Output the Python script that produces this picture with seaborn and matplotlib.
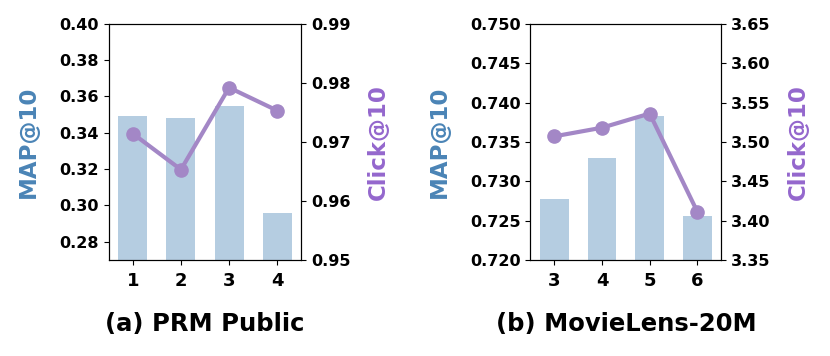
import matplotlib
matplotlib.use("Agg")
import matplotlib.pyplot as plt
import seaborn as sns
import pandas as pd

# (a) PRM Public
prm_x = ["1", "2", "3", "4"]
prm_map = [0.349, 0.348, 0.355, 0.296]
prm_click = [0.9714, 0.9653, 0.9792, 0.9753]

# (b) MovieLens-20M
ml_x = ["3", "4", "5", "6"]
ml_map = [0.7277, 0.7330, 0.7383, 0.7256]
ml_click = [3.507, 3.518, 3.536, 3.411]

bar_color = "steelblue"
line_color = "#a387c6"
map_label_color = "#4a84b6"
click_label_color = "#9467cd"

plt.rcParams["font.family"] = "DejaVu Sans"
plt.rcParams["font.weight"] = "bold"

fig = plt.figure(figsize=(8.3, 3.56), dpi=100)
ax1 = fig.add_axes([0.131, 0.270, 0.232, 0.663])
ax2 = fig.add_axes([0.639, 0.270, 0.230, 0.663])


def draw_panel(ax, xs, maps, clicks, map_lim, map_ticks, click_lim, click_ticks, fmt_map, fmt_click, title):
    df = pd.DataFrame({"x": xs, "map": maps, "click": clicks})
    sns.barplot(data=df, x="x", y="map", ax=ax, color=bar_color, alpha=0.4,
                width=0.6, saturation=1)
    ax.set_ylim(*map_lim)
    ax.set_yticks(map_ticks)
    ax.set_yticklabels([fmt_map.format(v) for v in map_ticks], fontsize=11.5, fontweight="bold")
    ax.set_xticks(range(len(xs)))
    ax.set_xticklabels(xs, fontsize=13, fontweight="bold")
    ax.tick_params(axis="x", pad=5)
    ax.set_xlim(-0.5, len(xs) - 0.5)
    ax.set_xlabel(title, fontsize=17.5, fontweight="bold", labelpad=16)
    ax.set_ylabel("MAP@10", fontsize=16.5, fontweight="bold", color=map_label_color, labelpad=14)

    tx = ax.twinx()
    tx.plot(range(len(xs)), df["click"], color=line_color, linewidth=3,
            marker="o", markersize=9.5)
    tx.set_ylim(*click_lim)
    tx.set_yticks(click_ticks)
    tx.set_yticklabels([fmt_click.format(v) for v in click_ticks], fontsize=11.5, fontweight="bold")
    tx.set_ylabel("Click@10", fontsize=16.5, fontweight="bold", color=click_label_color, labelpad=12)
    tx.set_xlim(-0.5, len(xs) - 0.5)


draw_panel(ax1, prm_x, prm_map, prm_click,
           (0.27, 0.40), [0.28, 0.30, 0.32, 0.34, 0.36, 0.38, 0.40],
           (0.95, 0.99), [0.95, 0.96, 0.97, 0.98, 0.99],
           "{:.2f}", "{:.2f}", "(a) PRM Public")
draw_panel(ax2, ml_x, ml_map, ml_click,
           (0.720, 0.750), [0.720, 0.725, 0.730, 0.735, 0.740, 0.745, 0.750],
           (3.35, 3.65), [3.35, 3.40, 3.45, 3.50, 3.55, 3.60, 3.65],
           "{:.3f}", "{:.2f}", "(b) MovieLens-20M")

fig.savefig("out.png", dpi=100)
